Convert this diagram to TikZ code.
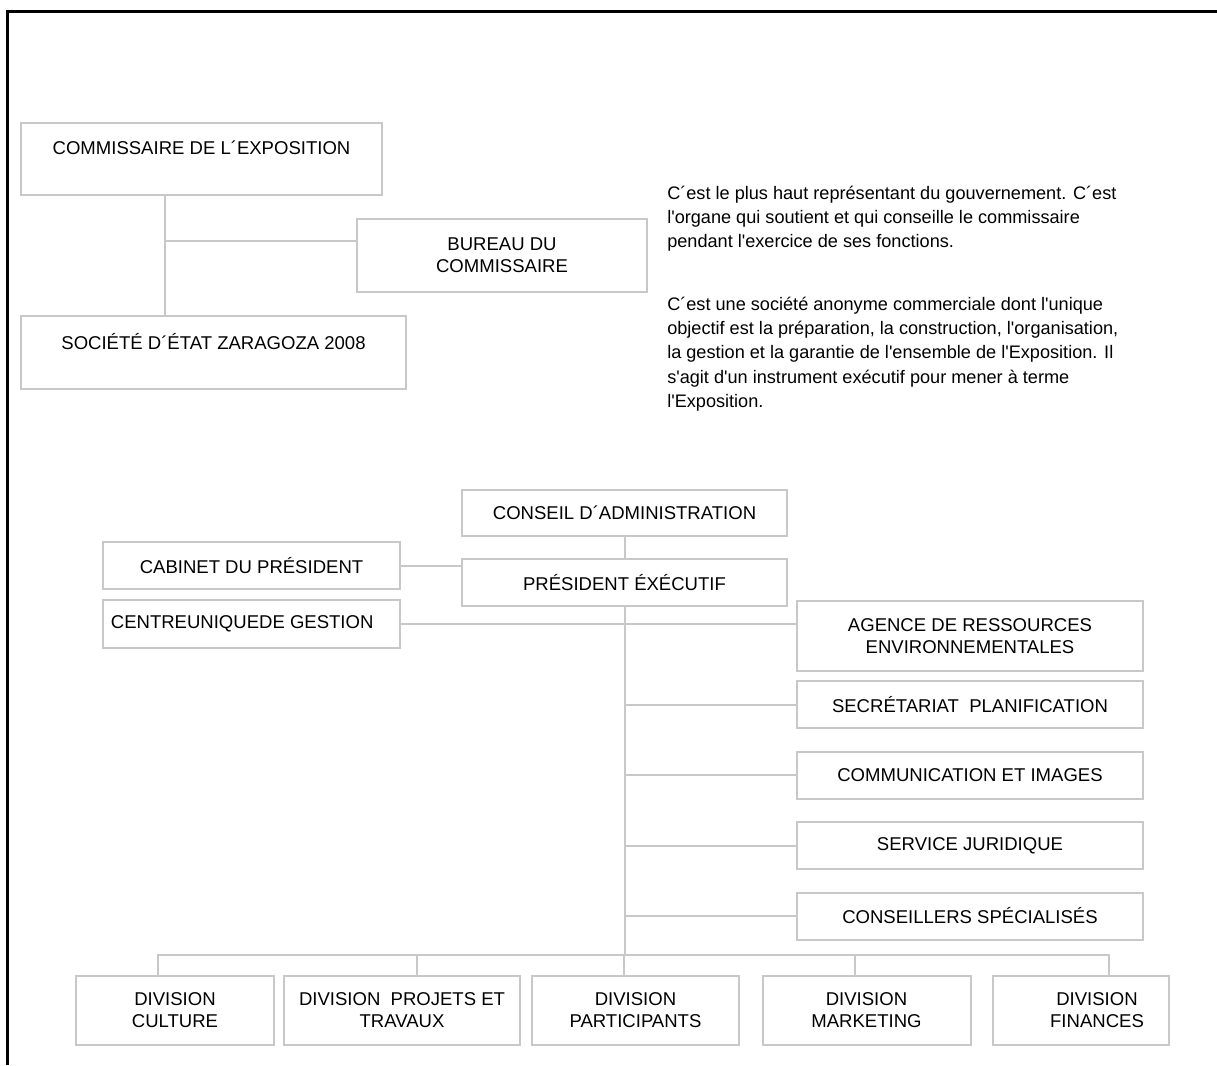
\documentclass[tikz,border=0pt]{standalone}
\usepackage{fontspec}
\newfontfamily\orgfont{Liberation Sans}
\definecolor{boxgrey}{RGB}{200,200,200}

\begin{document}
\begin{tikzpicture}[x=0.75pt,y=0.75pt,yscale=-1,xscale=1,
	orgbox/.style={draw=boxgrey, line width=1.5pt, inner sep=0pt, align=center, font=\orgfont\fontsize{13.9}{16.5}\selectfont},
	orgline/.style={draw=boxgrey, line width=1.5pt},
	notetext/.style={anchor=north west, inner sep=0pt, align=left, font=\orgfont\fontsize{13.6}{18.3}\selectfont}]
				\useasboundingbox (0,0) rectangle (1217,1065);

				%Straight Lines [frame]
				\draw [line width=2.25pt] (7.5,1065) -- (7.5,11) -- (1217,11) ;

				%Shape: Rectangle [commissaire]
				\node [orgbox, minimum width=361*0.75pt, minimum height=72*0.75pt] (commiss) at (201.5,159) {COMMISSAIRE DE L´EXPOSITION\\ \mbox{}};
				%Shape: Rectangle [bureau]
				\node [orgbox, minimum width=290*0.75pt, minimum height=73*0.75pt] (bureau) at (502,255.5) {BUREAU DU\\COMMISSAIRE};
				%Shape: Rectangle [societe]
				\node [orgbox, minimum width=385*0.75pt, minimum height=73*0.75pt] (societe) at (213.5,352.5) {SOCIÉTÉ D´ÉTAT ZARAGOZA 2008\\ \mbox{}};

				%Straight Lines [commissaire - societe - bureau]
				\coordinate (jc) at (165,241);
				\draw [orgline] (commiss.south -| jc) -- (societe.north -| jc) ;
				\draw [orgline] (jc) -- (jc -| bureau.west) ;

				% Text Node
				\node [notetext] (note1) at (667,185.5) {C´est le plus haut représentant du gouvernement. C´est\\l'organe qui soutient et qui conseille le commissaire\\pendant l'exercice de ses fonctions.};
				% Text Node
				\node [notetext] (note2) at (667,296.5) {C´est une société anonyme commerciale dont l'unique\\objectif est la préparation, la construction, l'organisation,\\la gestion et la garantie de l'ensemble de l'Exposition. Il\\s'agit d'un instrument exécutif pour mener à terme\\l'Exposition.};

				%Shape: Rectangle [conseil / president]
				\node [orgbox, minimum width=325*0.75pt, minimum height=46*0.75pt] (conseil) at (624.5,512.5) {CONSEIL D´ADMINISTRATION};
				\node [orgbox, minimum width=325*0.75pt, minimum height=47*0.75pt] (pres) at (624.5,582.5) {PRÉSIDENT ÉXÉCUTIF};
				%Shape: Rectangle [cabinet / centre]
				\node [orgbox, minimum width=297*0.75pt, minimum height=47*0.75pt] (cabinet) at (251.5,565.5) {CABINET DU PRÉSIDENT};
				\node [orgbox, minimum width=297*0.75pt, minimum height=48*0.75pt] (centre) at (251.5,624) {CENTREUNIQUEDE GESTION\hspace*{14pt}};

				%Shape: Rectangle [right column]
				\node [orgbox, minimum width=346*0.75pt, minimum height=70*0.75pt] (agence) at (970,636) {AGENCE DE RESSOURCES\\ENVIRONNEMENTALES};
				\node [orgbox, minimum width=346*0.75pt, minimum height=47*0.75pt] (secretariat) at (970,704.5) {SECRÉTARIAT\ \ PLANIFICATION};
				\node [orgbox, minimum width=346*0.75pt, minimum height=47*0.75pt] (communication) at (970,775) {COMMUNICATION ET IMAGES};
				\node [orgbox, minimum width=346*0.75pt, minimum height=47*0.75pt] (service) at (970,845.5) {SERVICE JURIDIQUE};
				\node [orgbox, minimum width=346*0.75pt, minimum height=47*0.75pt] (conseillers) at (970,916) {CONSEILLERS SPÉCIALISÉS};

				%Shape: Rectangle [divisions]
				\node [orgbox, minimum width=198*0.75pt, minimum height=69*0.75pt] (culture) at (175,1010.5) {DIVISION\\CULTURE};
				\node [orgbox, minimum width=236*0.75pt, minimum height=69*0.75pt] (projets) at (402,1010.5) {DIVISION\ \ PROJETS ET\\TRAVAUX};
				\node [orgbox, minimum width=207*0.75pt, minimum height=69*0.75pt] (participants) at (635.5,1010.5) {DIVISION\\PARTICIPANTS};
				\node [orgbox, minimum width=208*0.75pt, minimum height=69*0.75pt] (marketing) at (866.5,1010.5) {DIVISION\\MARKETING};
				\node [orgbox, minimum width=176*0.75pt, minimum height=69*0.75pt] (finances) at (1081,1010.5) {\hspace*{24pt}DIVISION\\\hspace*{24pt}FINANCES};

				%Straight Lines [president links]
				\coordinate (trunk) at (624,956);
				\draw [orgline] (conseil.south) -- (pres.north) ;
				\draw [orgline] (cabinet.east) -- (cabinet.east -| pres.west) ;
				\draw [orgline] (pres.south) -- (pres.south |- trunk) ;
				\draw [orgline] (centre.east) -- (centre.east -| agence.west) ;
				\foreach \b in {secretariat,communication,service,conseillers}
					\draw [orgline] (\b.west -| trunk) -- (\b.west) ;

				%Straight Lines [division bus]
				\draw [orgline] ([xshift=-17*0.75pt]culture.north) -- ++(0,-20) -| ([xshift=27.5*0.75pt]finances.north) ;
				\foreach \n/\dx in {projets/14.5,participants/-11.5,marketing/-11.5}
					\draw [orgline] ([xshift=\dx*0.75pt]\n.north) -- ++(0,-20) ;

		\end{tikzpicture}
\end{document}
